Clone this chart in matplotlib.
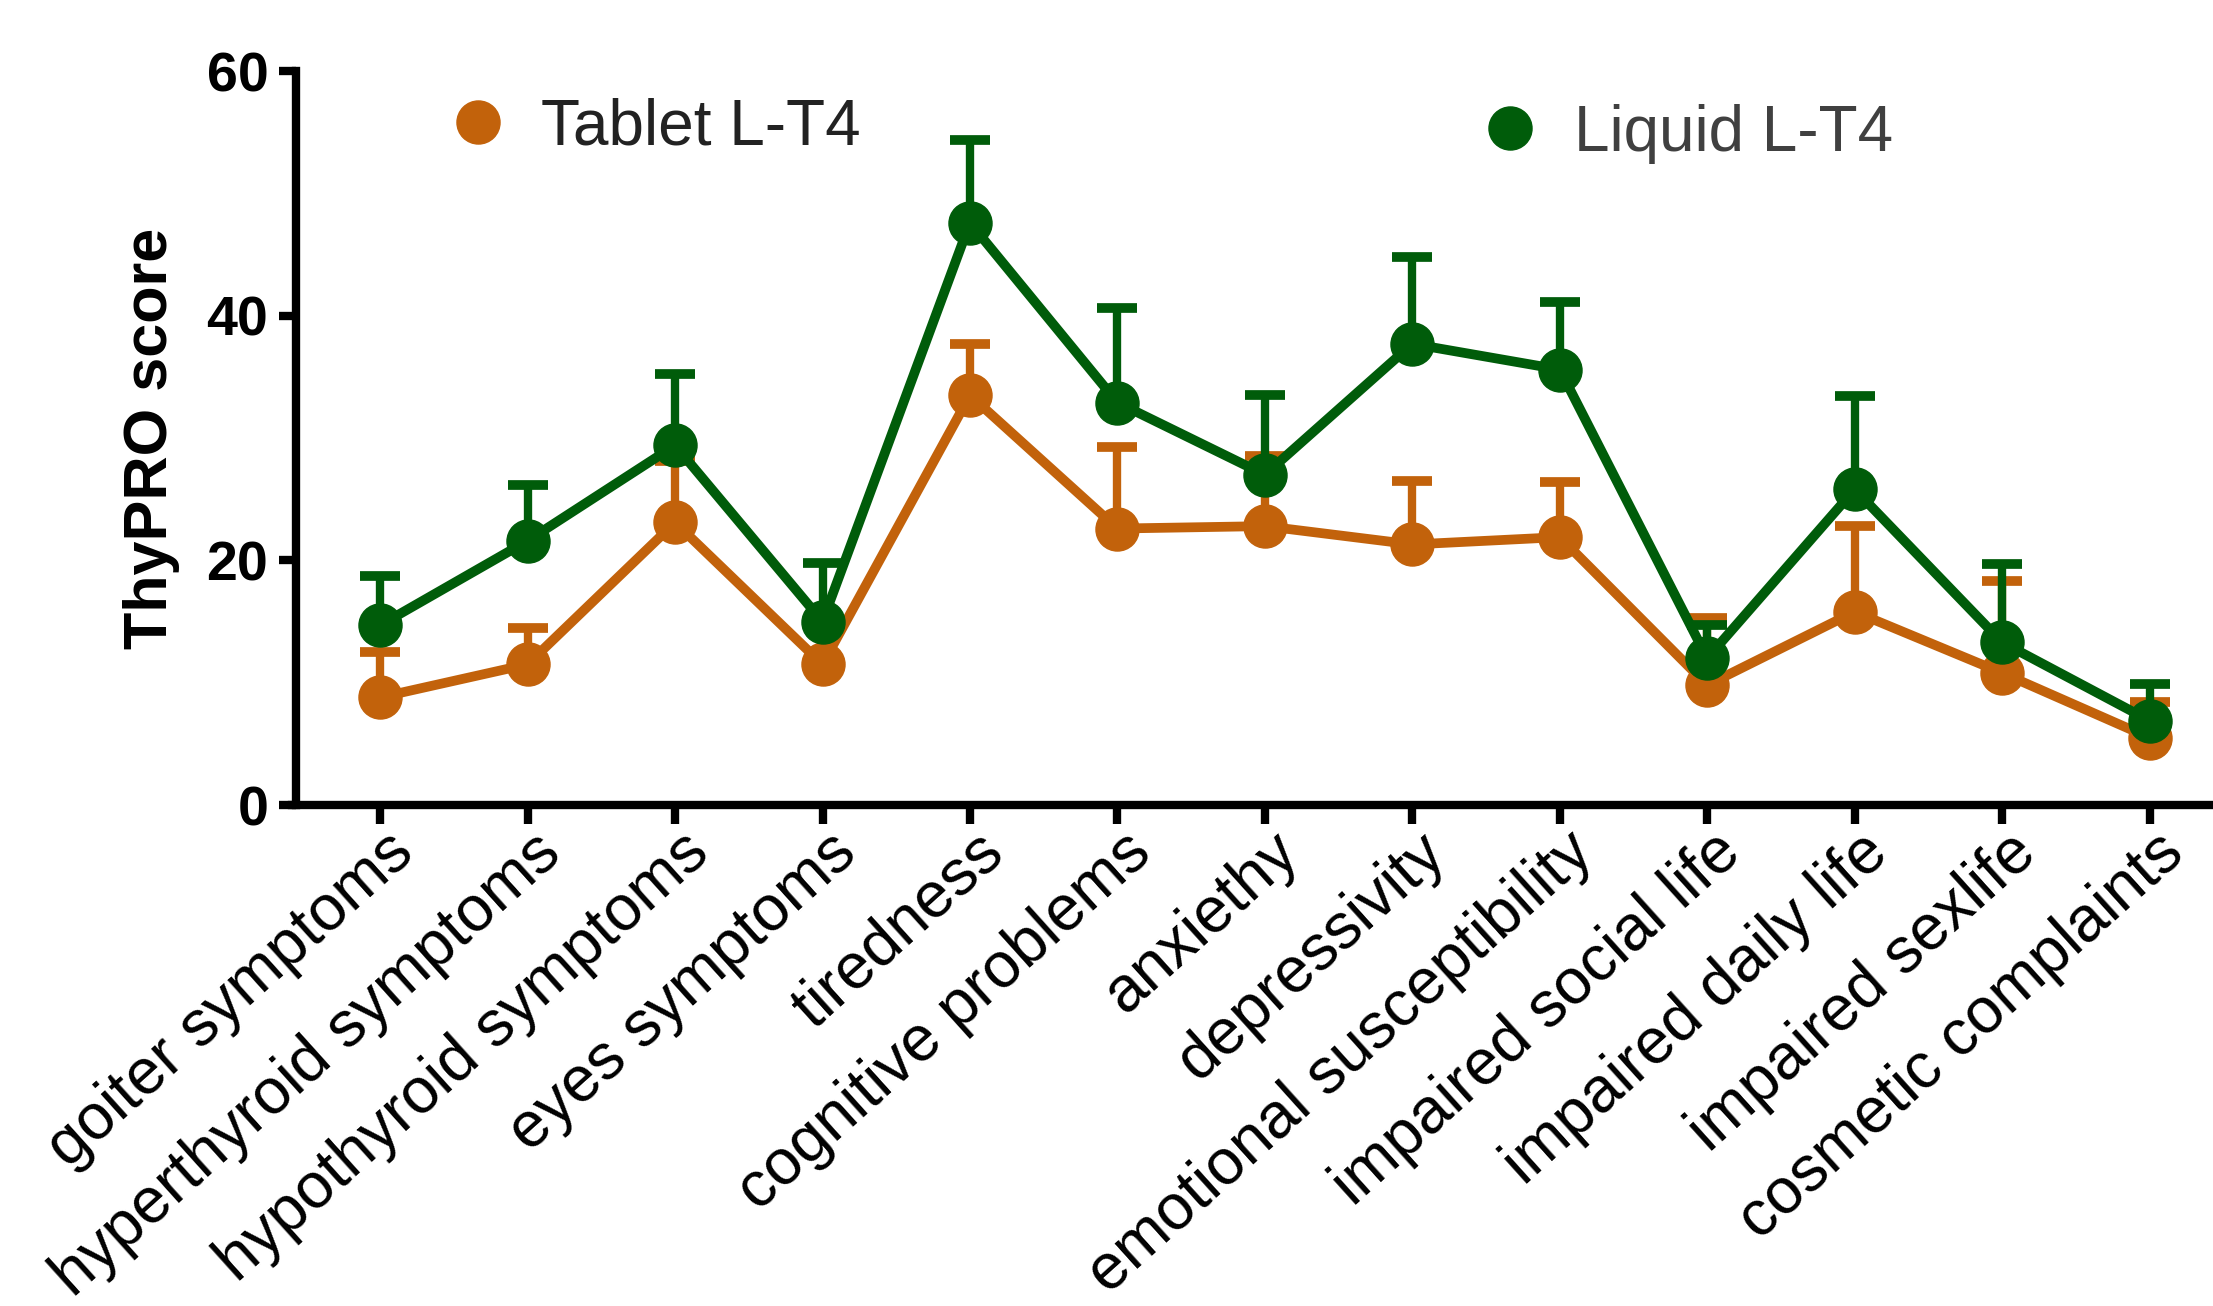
import matplotlib
matplotlib.use("Agg")
import matplotlib.pyplot as plt
import matplotlib.transforms as mtransforms
from matplotlib.lines import Line2D
import numpy as np

plt.rcParams['font.family'] = ['Liberation Sans', 'DejaVu Sans']

categories = ['goiter symptoms', 'hyperthyroid symptoms', 'hypothyroid symptoms',
              'eyes symptoms', 'tiredness', 'cognitive problems', 'anxiethy',
              'depressivity', 'emotional susceptibility', 'impaired social life',
              'impaired daily life', 'impaired sexlife', 'cosmetic complaints']

tablet_mean = [8.8, 11.5, 23.1, 11.5, 33.5, 22.6, 22.8, 21.3, 21.9, 9.8, 15.8, 10.8, 5.5]
tablet_err = [3.7, 3.0, 5.0, 3.5, 4.2, 6.7, 5.7, 5.2, 4.5, 5.5, 7.0, 7.5, 2.9]
liquid_mean = [14.7, 21.6, 29.4, 15.0, 47.6, 32.9, 27.0, 37.7, 35.6, 12.0, 25.8, 13.3, 6.9]
liquid_err = [4.0, 4.6, 5.8, 4.8, 6.8, 7.7, 6.5, 7.1, 5.5, 2.7, 7.6, 6.4, 3.0]

orange = '#C2620B'
green = '#005C0A'

fig = plt.figure(figsize=(22.13, 13.06), dpi=100)
ax = fig.add_axes([0.1338, 0.3836, 0.8662, 0.562])

x = np.arange(len(categories))

# upper error bars only (GraphPad style)
for mean, err, col, z in [(tablet_mean, tablet_err, orange, 2),
                          (liquid_mean, liquid_err, green, 3)]:
    line, caps, bars = ax.errorbar(x, mean, yerr=[np.zeros(len(x)), err], color=col,
                                   lw=7, marker='o', ms=31, capsize=14.5, capthick=7,
                                   elinewidth=6, zorder=z)
    caps[0].set_visible(False)

ax.set_xlim(-0.57, 12.43)
ax.set_ylim(0, 60)

for s in ['top', 'right']:
    ax.spines[s].set_visible(False)
for s in ['left', 'bottom']:
    ax.spines[s].set_linewidth(6)
ax.spines['bottom'].set_bounds(-0.6, 12.43)
ax.tick_params(axis='both', width=6, direction='out')
ax.tick_params(axis='y', length=12, pad=8)
ax.tick_params(axis='x', length=14, pad=14)

ax.set_yticks([0, 20, 40, 60])
ax.set_yticklabels(['0', '20', '40', '60'], fontsize=40, fontweight='bold')
ax.set_xticks(x)
ax.set_xticklabels(categories, fontsize=46, rotation=42, ha='right', va='center',
                   rotation_mode='anchor')
# shift labels a bit right (after tick_params, which resets transforms)
offset = mtransforms.ScaledTranslation(0.25, 0.0, fig.dpi_scale_trans)
for lbl in ax.get_xticklabels():
    lbl.set_transform(lbl.get_transform() + offset)

ax.set_ylabel('ThyPRO score', fontsize=44, fontweight='bold', labelpad=19)

h1 = Line2D([], [], color=orange, marker='o', ms=31, lw=0)
h2 = Line2D([], [], color=green, marker='o', ms=31, lw=0)
leg1 = ax.legend([h1], ['Tablet L-T4'], loc='upper left', bbox_to_anchor=(0.048, 1.042),
                 frameon=False, fontsize=46, handletextpad=0.5, handlelength=1,
                 labelcolor='#222222')
ax.add_artist(leg1)
leg2 = ax.legend([h2], ['Liquid L-T4'], loc='upper left', bbox_to_anchor=(0.5865, 1.034),
                 frameon=False, fontsize=46, handletextpad=0.5, handlelength=1,
                 labelcolor='#404040')

fig.savefig('out.png', dpi=100)
